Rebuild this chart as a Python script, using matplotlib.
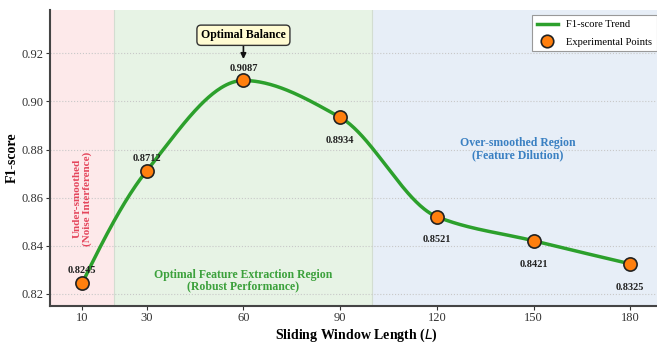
import numpy as np
import matplotlib
matplotlib.use("Agg")
import matplotlib.pyplot as plt
from matplotlib.lines import Line2D

# Measured F1-scores for each sliding window length
window_lengths = [10, 30, 60, 90, 120, 150, 180]
f1_scores = [0.8245, 0.8712, 0.9087, 0.8934, 0.8521, 0.8421, 0.8325]
x_tick_labels = ["10", "30", "60", "90", "120", "150", "180"]
y_ticks = [0.82, 0.84, 0.86, 0.88, 0.90, 0.92]

# Region boundaries along the window-length axis
region_edges = [0, 20, 100, 190]
region_names = ["Under-smoothed\n(Noise Interference)",
                "Optimal Feature Extraction Region\n(Robust Performance)",
                "Over-smoothed Region\n(Feature Dilution)"]


def pchip(x, y, xs):
    """Shape-preserving piecewise cubic Hermite interpolation."""
    x = np.asarray(x, float)
    y = np.asarray(y, float)
    h = np.diff(x)
    delta = np.diff(y) / h
    n = len(x)
    d = np.zeros(n)
    for k in range(1, n - 1):
        if delta[k - 1] * delta[k] > 0:
            w1 = 2 * h[k] + h[k - 1]
            w2 = h[k] + 2 * h[k - 1]
            d[k] = (w1 + w2) / (w1 / delta[k - 1] + w2 / delta[k])

    def end_slope(h0, h1, m0, m1):
        s = ((2 * h0 + h1) * m0 - h0 * m1) / (h0 + h1)
        if np.sign(s) != np.sign(m0):
            s = 0.0
        elif np.sign(m0) != np.sign(m1) and abs(s) > abs(3 * m0):
            s = 3 * m0
        return s

    d[0] = end_slope(h[0], h[1], delta[0], delta[1])
    d[-1] = end_slope(h[-1], h[-2], delta[-1], delta[-2])
    idx = np.clip(np.searchsorted(x, xs, side="right") - 1, 0, n - 2)
    hk = h[idx]
    t = (xs - x[idx]) / hk
    h00 = 2 * t ** 3 - 3 * t ** 2 + 1
    h10 = t ** 3 - 2 * t ** 2 + t
    h01 = -2 * t ** 3 + 3 * t ** 2
    h11 = t ** 3 - t ** 2
    return h00 * y[idx] + h10 * hk * d[idx] + h01 * y[idx + 1] + h11 * hk * d[idx + 1]


plt.rcParams["font.family"] = ["Liberation Serif", "DejaVu Serif"]
plt.rcParams["mathtext.fontset"] = "dejavusans"

fig = plt.figure(figsize=(6.57, 3.43), dpi=100)
ax = fig.add_axes([0.0761, 0.1079, 0.9323, 0.8630])

ax.set_xlim(region_edges[0], region_edges[-1])
ax.set_ylim(0.815, 0.938)

# Shaded regions
region_colors = ["#fde9ea", "#e7f3e5", "#e7eef7"]
for (lo, hi), col in zip(zip(region_edges[:-1], region_edges[1:]), region_colors):
    ax.axvspan(lo, hi, color=col, zorder=0, lw=0)
for edge in region_edges[1:-1]:
    ax.axvline(edge, color="#d3ddd1", lw=0.8, zorder=0.5)

ax.grid(axis="y", linestyle=":", color="#c8c8c8", linewidth=0.8, zorder=0.6)
ax.set_axisbelow(True)

# Smooth trend and measured points
xs = np.linspace(window_lengths[0], window_lengths[-1], 400)
ys = pchip(window_lengths, f1_scores, xs)
ax.plot(xs, ys, color="#2ca02c", lw=2.5, zorder=3)
ax.plot(window_lengths, f1_scores, "o", ms=9.5, mfc="#ff7f0e", mec="#222222",
        mew=1.2, zorder=4)

# Value labels: above for the rising part, below after the peak
for wl, f1 in zip(window_lengths, f1_scores):
    if wl <= 60:
        ax.annotate(f"{f1:.4f}", (wl, f1), xytext=(0, 5.5), textcoords="offset points",
                    ha="center", va="bottom", fontsize=7.5, fontweight="bold",
                    color="#222222", zorder=5)
    else:
        ax.annotate(f"{f1:.4f}", (wl, f1), xytext=(0, -13.5), textcoords="offset points",
                    ha="center", va="top", fontsize=7.5, fontweight="bold",
                    color="#222222", zorder=5)

# Peak callout
ax.annotate("Optimal Balance", xy=(60, 0.9176), xytext=(60, 0.9275),
            ha="center", va="center", fontsize=8.5, fontweight="bold",
            bbox=dict(boxstyle="round,pad=0.35", fc="#fffbd2", ec="#333333", lw=1.0),
            arrowprops=dict(arrowstyle="-|>", color="#111111", lw=1.2,
                            mutation_scale=8, shrinkA=0, shrinkB=0),
            zorder=6)

# Region descriptions
ax.text(10, 0.8597, region_names[0], rotation=90, ha="center", va="center",
        fontsize=8, fontweight="bold", color="#e4465c", linespacing=1.0)
ax.text(60, 0.8255, region_names[1], ha="center", va="center",
        fontsize=8.5, fontweight="bold", color="#3ca13c", linespacing=1.0)
ax.text(145, 0.8803, region_names[2], ha="center", va="center",
        fontsize=8.5, fontweight="bold", color="#3a80c2", linespacing=1.0)

# Axes styling
ax.set_xticks(window_lengths)
ax.set_xticklabels(x_tick_labels)
ax.set_yticks(y_ticks)
ax.set_yticklabels([f"{v:.2f}" for v in y_ticks])
ax.tick_params(axis="both", labelsize=9, colors="#333333", length=3, width=0.8, pad=1.5)
for side in ("top", "right"):
    ax.spines[side].set_visible(False)
for side in ("left", "bottom"):
    ax.spines[side].set_color("#444444")
    ax.spines[side].set_linewidth(1.5)

ax.set_xlabel("Sliding Window Length ($L$)", fontsize=10, fontweight="bold", labelpad=2)
ax.set_ylabel("F1-score", fontsize=10, fontweight="bold", labelpad=2)

handles = [Line2D([0], [0], color="#2ca02c", lw=2.5),
           Line2D([0], [0], marker="o", ls="none", ms=9, mfc="#ff7f0e",
                  mec="#222222", mew=1.2)]
leg = ax.legend(handles, ["F1-score Trend", "Experimental Points"], loc="upper right",
                fontsize=7.6, frameon=True, fancybox=False, edgecolor="#999999",
                framealpha=1.0, borderpad=0.45, handlelength=2.0, labelspacing=0.75)
leg.get_frame().set_linewidth(0.8)

fig.savefig("out.png", dpi=100)
